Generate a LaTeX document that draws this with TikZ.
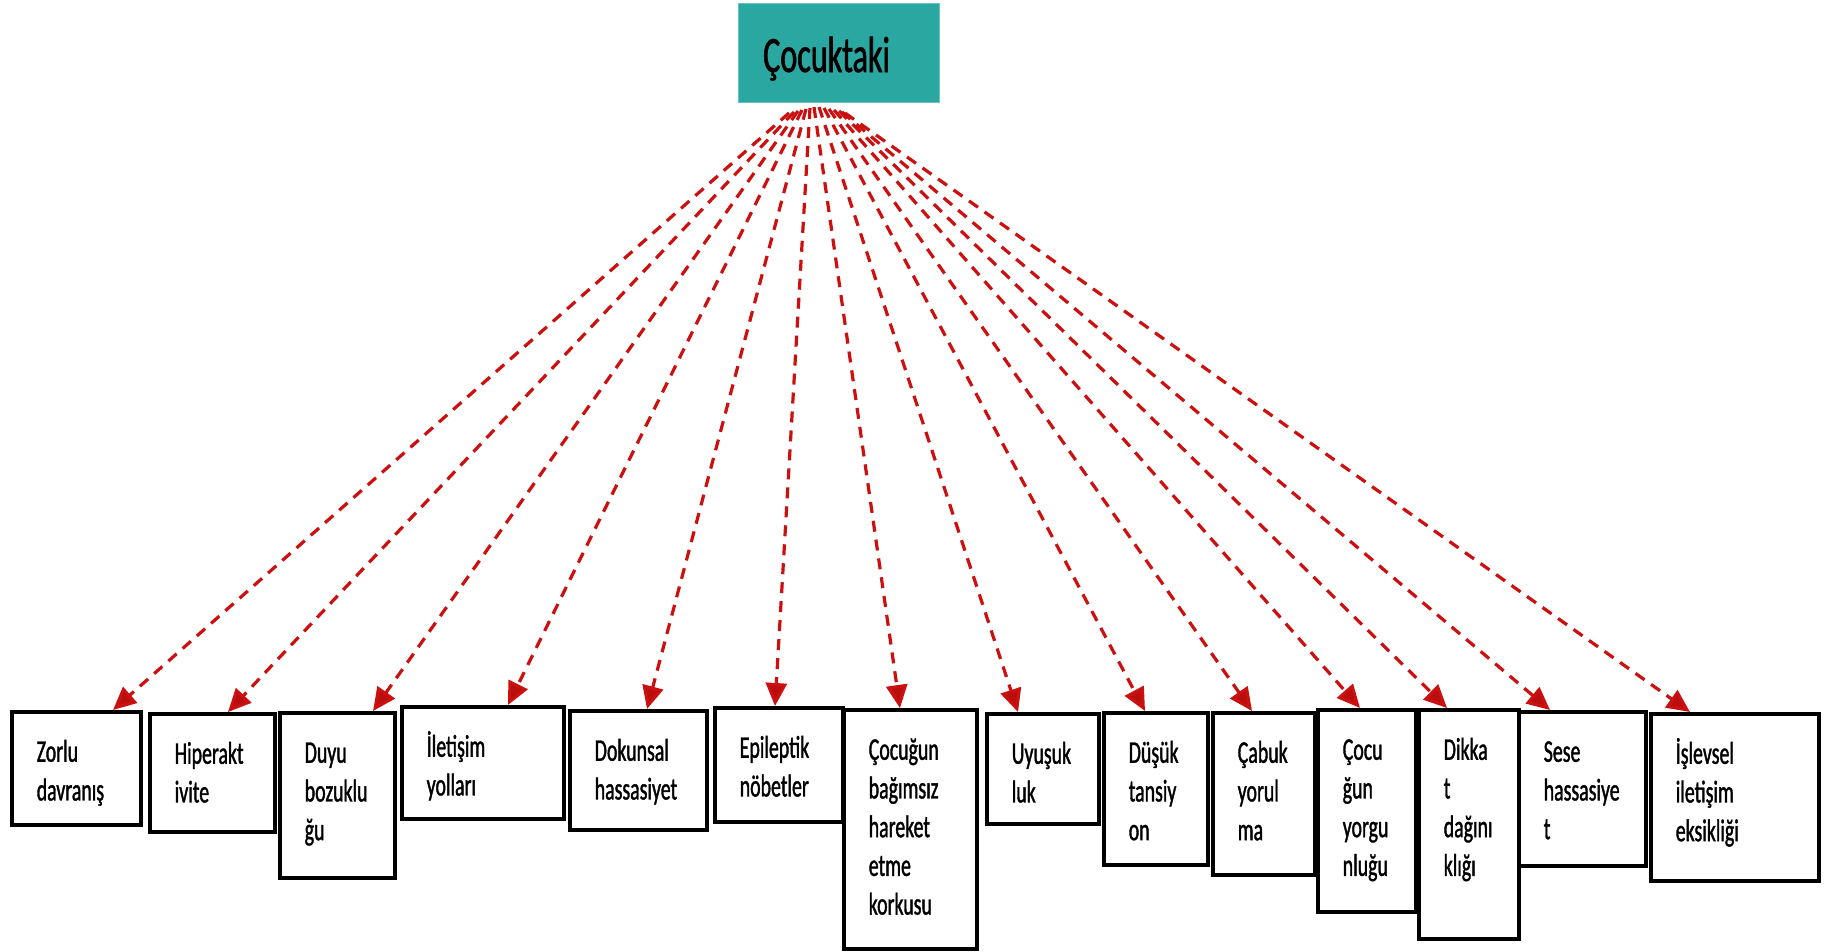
\documentclass[tikz,border=0pt]{standalone}
\usepackage{fontspec}
\setmainfont{Carlito}[FakeStretch=0.63]
\newfontfamily\boxfont{Carlito}[FakeStretch=0.63,FakeBold=1.2]
\usetikzlibrary{arrows.meta,calc}
\definecolor{tealbox}{RGB}{42,167,160}
\definecolor{arrowred}{RGB}{204,16,16}
\hyphenpenalty=10000
\exhyphenpenalty=10000
\newcommand\symbx[6]{%
  \node[sbox, anchor=north west] (#1) at (#2,#3)
    {\parbox[t][\dimexpr#5pt-#3pt\relax][t]{\dimexpr#4pt-#2pt-50pt\relax}{\raggedright\rule{0pt}{50pt}#6}};}
\tikzset{
  sbox/.style={draw=black, line width=3.5pt, fill=white, inner xsep=25pt, inner ysep=0pt,
    font=\boxfont\fontsize{31.5pt}{38.7pt}\selectfont},
  titlebox/.style={fill=tealbox, draw=tealbox!70!white, line width=1pt, inner sep=0pt},
  conn/.style={draw=arrowred, line width=3.2pt, dash pattern=on 11pt off 8pt,
    -{Triangle[width=21pt,length=23pt,fill=arrowred!90!black]}}
}
\begin{document}
\begin{tikzpicture}[x=1pt,y=-1pt]
\useasboundingbox[fill=white] (0,0) rectangle (1830,951);
% title
\node[titlebox, anchor=north west, minimum width=201pt, minimum height=99pt] (top) at (738,3) {};
\node[anchor=base west, inner sep=0pt, font=\boxfont\fontsize{51pt}{60pt}\selectfont] (toptext) at (763,72) {Çocuktaki};
% boxes
\symbx{b1}{10}{710}{139}{823}{Zorlu\\davranış}
\symbx{b2}{148}{712}{273}{830}{Hiperakt\\ivite}
\symbx{b3}{278}{711}{393}{876}{Duyu\\bozuklu\\ğu}
\symbx{b4}{400}{705}{562}{817}{İletişim\\yolları}
\symbx{b5}{568}{709}{705}{828}{Dokunsal\\hassasiyet}
\symbx{b6}{713}{706}{841}{820}{Epileptik\\nöbetler}
\symbx{b7}{842}{708}{975}{947}{Çocuğun\\bağımsız\\hareket\\etme\\korkusu}
\symbx{b8}{985}{712}{1097}{822}{Uyuşuk\\luk}
\symbx{b9}{1102}{711}{1206}{863}{Düşük\\tansiy\\on}
\symbx{b10}{1211}{711}{1313}{873}{Çabuk\\yorul\\ma}
\symbx{b11}{1316}{708}{1414}{910}{Çocu\\ğun\\yorgu\\nluğu}
\symbx{b12}{1417}{708}{1517}{937}{Dikka\\t\\dağını\\klığı}
\symbx{b13}{1517}{710}{1644}{864}{Sese\\hassasiye\\t}
\symbx{b14}{1649}{712}{1817}{879}{İşlevsel\\iletişim\\eksikliği}
% connectors
\draw[conn] ($(top.south)+(-50,10)$) -- ($(b1.north west)+(103,0)$);
\draw[conn] ($(top.south)+(-45,9)$) -- ($(b2.north west)+(80,0)$);
\draw[conn] ($(top.south)+(-41,8)$) -- ($(b3.north west)+(95,0)$);
\draw[conn] ($(top.south)+(-37,7)$) -- ($(b4.north west)+(108,0)$);
\draw[conn] ($(top.south)+(-33,6)$) -- ($(b5.north west)+(79,0)$);
\draw[conn] ($(top.south)+(-29,5)$) -- ($(b6.north west)+(62,0)$);
\draw[conn] ($(top.south)+(-25,4)$) -- ($(b7.north west)+(58,0)$);
\draw[conn] ($(top.south)+(-20,4)$) -- ($(b8.north west)+(33,0)$);
\draw[conn] ($(top.south)+(-15,5)$) -- ($(b9.north west)+(43,0)$);
\draw[conn] ($(top.south)+(-10,6)$) -- ($(b10.north west)+(41,0)$);
\draw[conn] ($(top.south)+(-5,7)$) -- ($(b11.north west)+(44,0)$);
\draw[conn] ($(top.south)+(0,8)$) -- ($(b12.north west)+(30,0)$);
\draw[conn] ($(top.south)+(3,9)$) -- ($(b13.north west)+(33,0)$);
\draw[conn] ($(top.south)+(6,10)$) -- ($(b14.north west)+(41,0)$);
\end{tikzpicture}
\end{document}
